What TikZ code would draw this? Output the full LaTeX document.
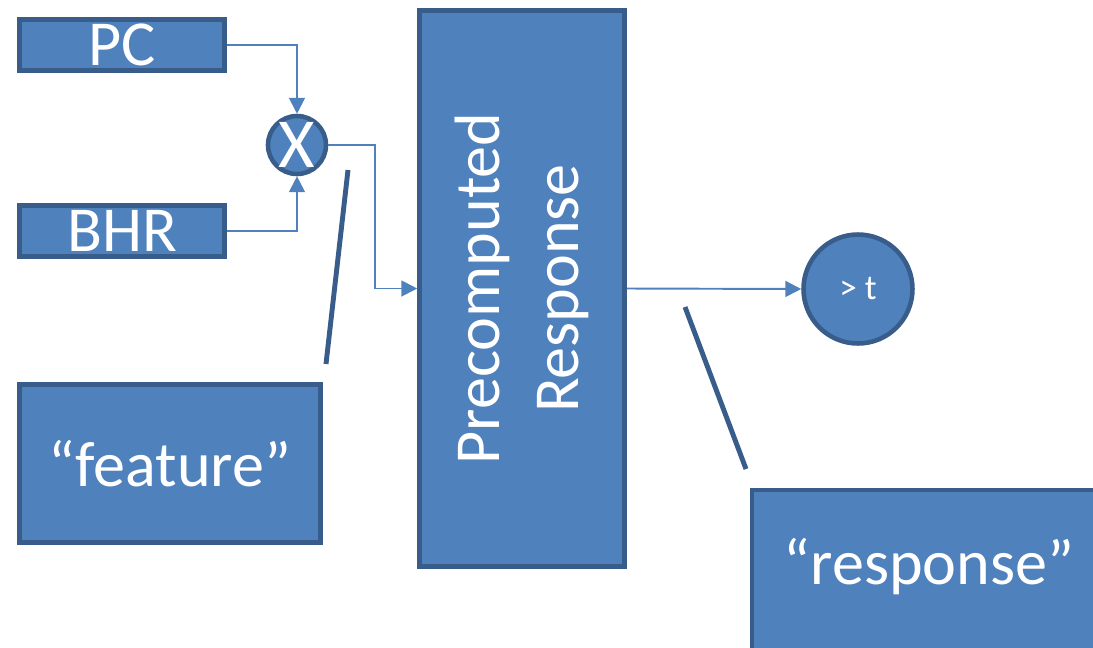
\documentclass[tikz,border=0pt]{standalone}
\usepackage{fontspec}
\setmainfont{Carlito}
\usepackage{tikz}
\usetikzlibrary{arrows.meta,positioning,calc}
\definecolor{boxfill}{HTML}{4F81BD}
\definecolor{boxedge}{HTML}{385D8A}
\newcommand{\feed}[2]
{
	\draw[wire] (#1) -| (#2)
}

\begin{document}
\begin{tikzpicture}[x=0.02cm, y=-0.02cm,
			block/.append style={shape=rectangle,
				fill=boxfill,
				draw=boxedge,
				line width=2.6pt,
				text=white,
				inner sep=0,
			font=\fontsize{36.5}{45}\selectfont},
			junction/.append style={shape=circle,
				fill=boxfill,
				draw=boxedge,
				line width=2.6pt,
				text=white,
			inner sep=0},
			wire/.style ={draw=boxfill, line width=1.1pt, -{Triangle[length=9pt,width=9pt]}},
			callout/.style ={draw=boxedge, line width=2.8pt}]
			
			\useasboundingbox (0,0) rectangle (1093,647);
			\clip (0,0) rectangle (1093,647);
			
			\node[block, minimum width=4.1cm, minimum height=1.02cm] at (122, 45) (PC){PC};
			\node[block, minimum width=4.1cm, minimum height=1.02cm] at (122, 231) (BHR){BHR};
			\node[junction, minimum size=0.92cm, font=\fontsize{40}{44}\selectfont] at (297, 145) (X){X};
			
			\node[block, minimum width=6.02cm, minimum height=3.16cm] at (170, 463.5) (feat){“feature”};
			
			\node[block, minimum width=4.1cm, minimum height=11.12cm] at (522, 288.5) (Pre){};
			\node[rotate=90, align=center, text=white, font=\fontsize{36.5}{45}\selectfont] at (Pre.center) (PreText){Precomputed\\Response};
			
			\node[junction, minimum size=2.18cm, font=\fontsize{20}{24}\selectfont] at (858, 289) (Thresh){> t};
			
			\node[block, minimum width=7.16cm, minimum height=4cm] at (931, 590) (resp){};
			\node[text=white, font=\fontsize{36.5}{45}\selectfont] at (929, 567) (respText){“response”};
			
			\feed{PC.east}{X.north};
			\feed{BHR.east}{X.south};
			\draw[wire] (X.east) -- ++(47,0) |- (Pre.west);
			\draw[wire] (Pre.east) -- (Thresh.west);
			
			% pointers from the labels
			\coordinate (fTip) at (348, 170);
			\coordinate (fEnd) at (326, 364);
			\coordinate (rTip) at (685, 307);
			\coordinate (rEnd) at (746, 469);
			\draw[callout] (fTip) -- (fEnd);
			\draw[callout] (rTip) -- (rEnd);
		\end{tikzpicture}
\end{document}
